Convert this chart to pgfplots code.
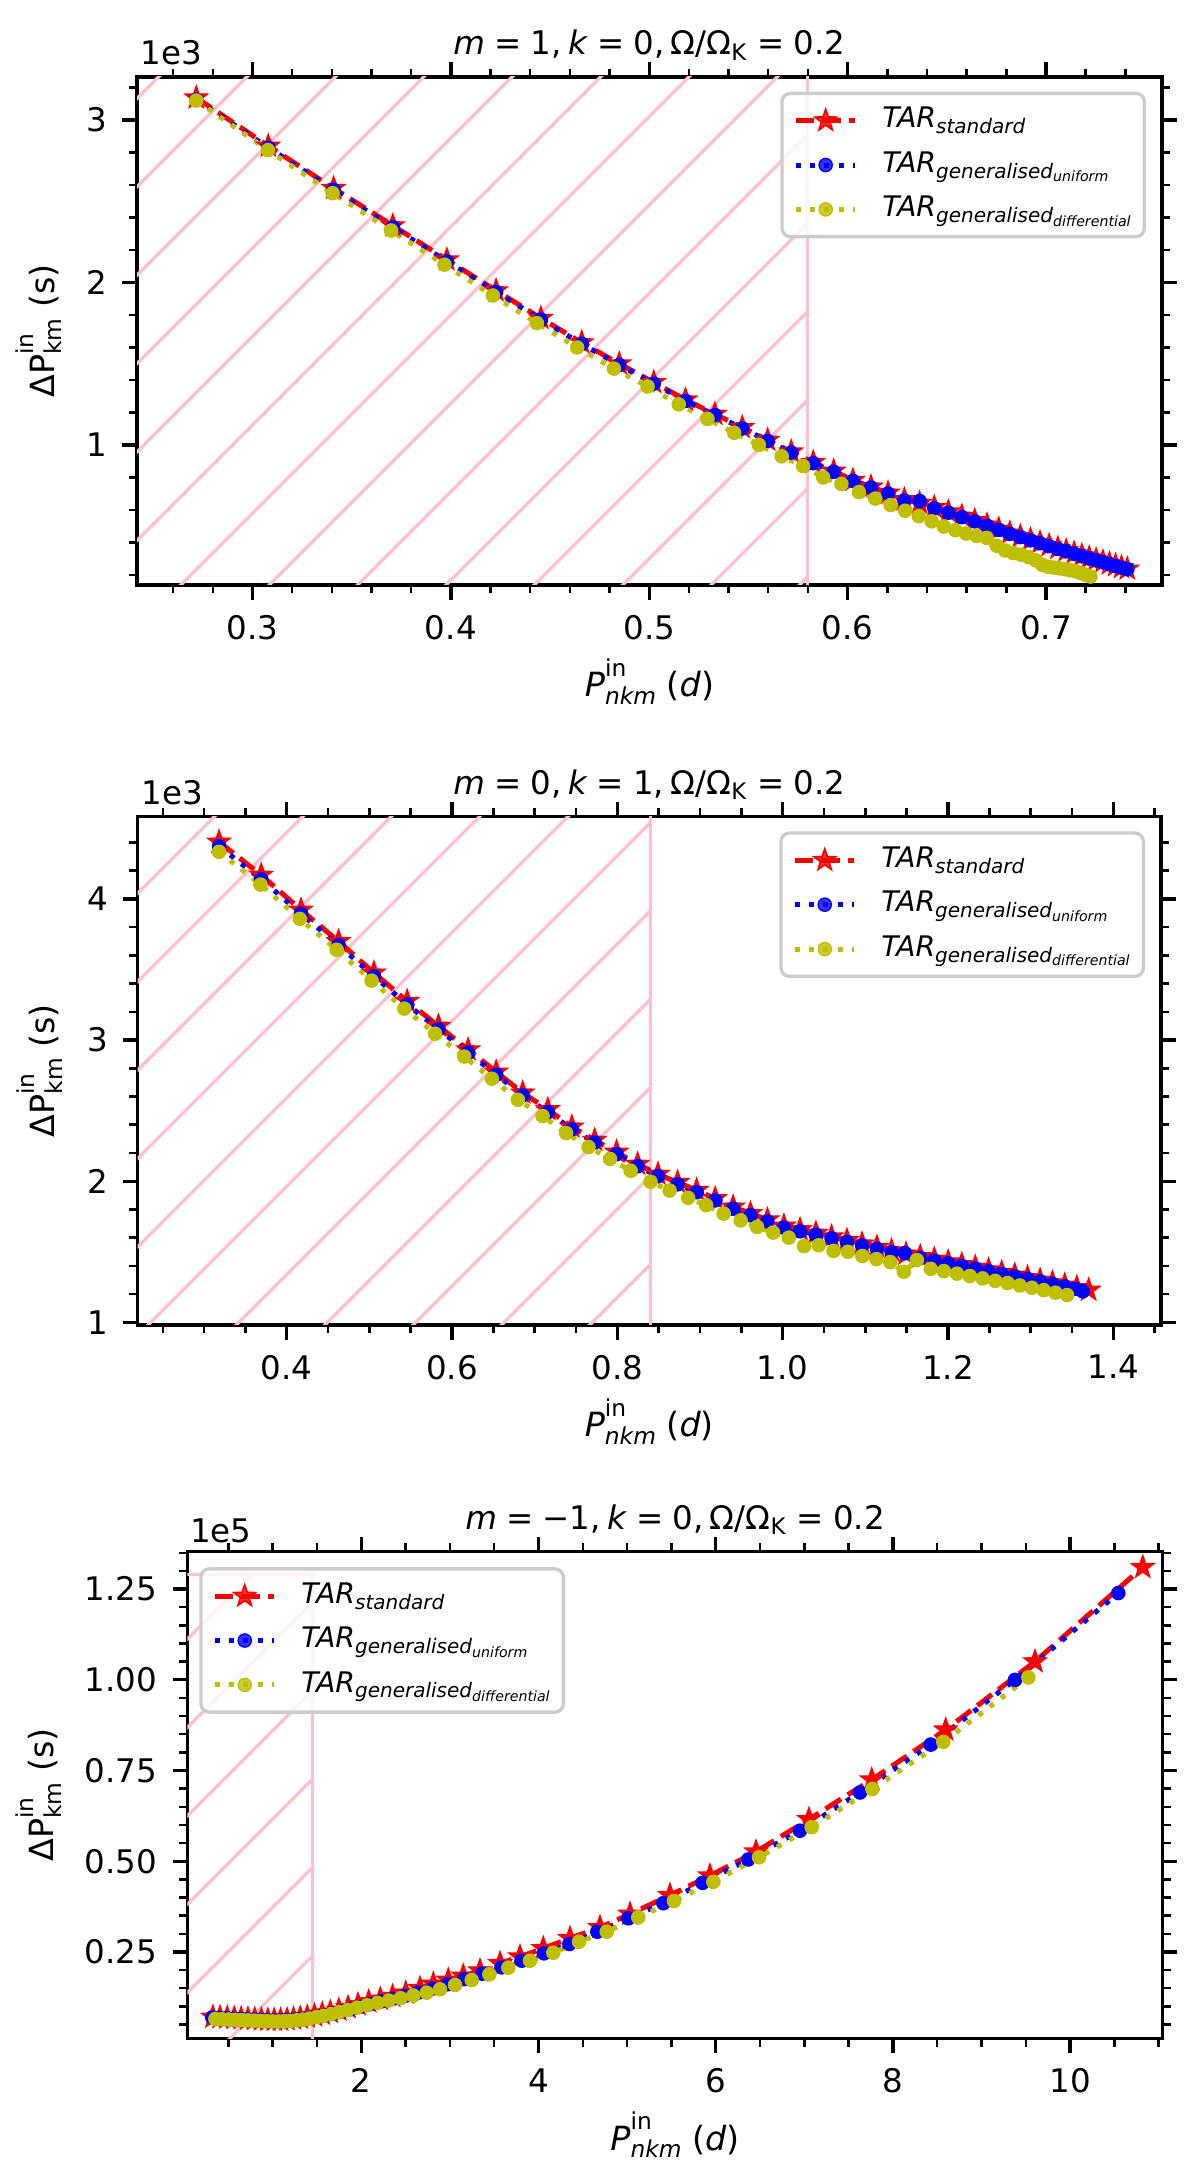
\documentclass[border=0pt]{standalone}
\usepackage{fontspec}
\setmainfont{DejaVu Sans}
\usepackage{pgfplots}
\pgfplotsset{compat=1.18}
\usetikzlibrary{patterns.meta}
\definecolor{mplpink}{HTML}{FFC0CB}
\definecolor{mplred}{rgb}{1,0,0}
\definecolor{mplblue}{rgb}{0,0,1}
\definecolor{mplolive}{rgb}{0.75,0.75,0}
\definecolor{leggray}{gray}{0.8}

\pgfdeclareplotmark{fstar}{%
  \pgfpathmoveto{\pgfpointpolar{90}{\pgfplotmarksize}}%
  \pgfpathlineto{\pgfpointpolar{126}{0.4\pgfplotmarksize}}%
  \pgfpathlineto{\pgfpointpolar{162}{\pgfplotmarksize}}%
  \pgfpathlineto{\pgfpointpolar{198}{0.4\pgfplotmarksize}}%
  \pgfpathlineto{\pgfpointpolar{234}{\pgfplotmarksize}}%
  \pgfpathlineto{\pgfpointpolar{270}{0.4\pgfplotmarksize}}%
  \pgfpathlineto{\pgfpointpolar{306}{\pgfplotmarksize}}%
  \pgfpathlineto{\pgfpointpolar{342}{0.4\pgfplotmarksize}}%
  \pgfpathlineto{\pgfpointpolar{18}{\pgfplotmarksize}}%
  \pgfpathlineto{\pgfpointpolar{54}{0.4\pgfplotmarksize}}%
  \pgfpathclose
  \pgfusepathqfillstroke
}

\newcommand{\supsz}{\fontsize{5.6}{6}\selectfont}
\newcommand{\ylab}{ΔP\makebox[0pt][l]{\raisebox{4.9pt}{\supsz in}}\raisebox{-1.8pt}{\supsz km}\ (s)}
\newcommand{\xlab}{\textit{P}\makebox[0pt][l]{\raisebox{4.9pt}{\supsz in}}\raisebox{-1.8pt}{\supsz\itshape nkm}\ (\textit{d})}
\newcommand{\lsub}[1]{\raisebox{-1.4pt}{\fontsize{4.8}{5}\selectfont\itshape #1}}
\newcommand{\llsub}[1]{\raisebox{-0.9pt}{\fontsize{3.4}{4}\selectfont\itshape #1}}
\newcommand{\lgA}{\textit{TAR}\lsub{standard}}
\newcommand{\lgB}{\textit{TAR}\lsub{generalised\llsub{uniform}}}
\newcommand{\lgC}{\textit{TAR}\lsub{generalised\llsub{differential}}}
\newcommand{\eqs}{\hspace{0.28em}=\hspace{0.28em}}
\newcommand{\ttl}[2]{\textit{m}\eqs #1,\hspace{0.2em}\textit{k}\eqs #2,\hspace{0.2em}Ω/Ω\textsubscript{K}\eqs 0.2}

\pgfplotsset{
  panel/.style={
    scale only axis,
    scaled ticks=false,
    every axis title shift=0pt,
    axis line style={line width=0.8pt},
    tick align=outside,
    major tick length=3.5pt,
    minor tick length=2pt,
    every major tick/.append style={line width=0.8pt, black},
    every minor tick/.append style={line width=0.6pt, black},
    tick label style={font=\fontsize{7.8}{9}\selectfont, inner sep=0pt},
    xticklabel style={yshift=-3.5pt},
    yticklabel style={xshift=-3.5pt},
    title style={font=\fontsize{7.8}{9}\selectfont, at={(rel axis cs:0.5,1)}, anchor=base, yshift=5.3pt, inner sep=0pt},
    label style={font=\fontsize{8}{10}\selectfont},
    xlabel style={at={(rel axis cs:0.5,0)}, anchor=base, yshift=-26.8pt, inner sep=0pt},
    legend cell align=left,
    legend style={
      draw=leggray, line width=0.8pt, rounded corners=2pt,
      fill=white, fill opacity=0.8, draw opacity=1, text opacity=1,
      font=\fontsize{6.8}{8}\selectfont,
      inner xsep=2.8pt, inner ysep=2.8pt,
      row sep=3.2pt, column sep=5.4pt,
      nodes={inner sep=0.5pt},
    },
    legend image code/.code={\draw[mark repeat=2,mark phase=2,#1] plot coordinates {(0pt,0pt) (7.1pt,0pt) (14.2pt,0pt)};},
  },
  sred/.style={mplred, line width=1.2pt, dash pattern=on 4.4pt off 1.9pt, mark=fstar, mark size=2.7pt, mark options={solid, line width=0.4pt}},
  sblue/.style={mplblue, line width=1.2pt, dash pattern=on 1.2pt off 2.2pt, mark=*, mark size=1.6pt, mark options={solid, line width=0.3pt}},
  solive/.style={mplolive, line width=1.2pt, dash pattern=on 1.2pt off 2.2pt, mark=*, mark size=1.6pt, mark options={solid, line width=0.3pt}},
  hatch/.style={draw=none, pattern={Lines[angle=45,distance=15pt,line width=0.8pt]}, pattern color=mplpink, forget plot},
  hedge/.style={mplpink, line width=0.7pt, forget plot},
}

\begin{document}
\begin{tikzpicture}
\useasboundingbox (0,0) rectangle (288pt,523.2pt);

% ---------------- Panel 1 ----------------
\begin{axis}[panel, name=p1,
  at={(32.88pt,382.8pt)}, anchor=south west,
  width=246pt, height=121.92pt,
  xmin=0.2418, xmax=0.7585, ymin=138, ymax=3265,
  xtick={0.3,0.4,0.5,0.6,0.7}, xticklabels={0.3,0.4,0.5,0.6,0.7},
  minor xtick={0.26,0.28,0.32,0.34,0.36,0.38,0.42,0.44,0.46,0.48,0.52,0.54,0.56,0.58,0.62,0.64,0.66,0.68,0.72,0.74},
  ytick={1000,2000,3000}, yticklabels={1,2,3},
  minor ytick={200,400,600,800,1200,1400,1600,1800,2200,2400,2600,2800,3200},
  title={\ttl{1}{0}},
  xlabel={\xlab}, ylabel={\ylab},
  ylabel style={at={([xshift=-17.9pt]rel axis cs:0,0.5)}, anchor=south, inner sep=0pt},
  legend style={at={(rel axis cs:0.9844,0.971)}, anchor=north east},
]
\addplot[hatch] coordinates {(0,-1000) (0.58,-1000) (0.58,5000) (0,5000)} -- cycle;
\addplot[hedge] coordinates {(0.58,-1000) (0.58,5000)};
\addplot[sred] coordinates {
(0.2717,3137) (0.3080,2840) (0.3409,2580) (0.3708,2350) (0.3980,2140) (0.4228,1950)
(0.4454,1780) (0.4660,1630) (0.4849,1500) (0.5023,1385) (0.5183,1278) (0.5331,1190)
(0.5469,1108) (0.5597,1030) (0.5716,958) (0.5827,893) (0.5930,840) (0.6027,783)
(0.6118,742) (0.6204,705) (0.6286,664) (0.6363,642) (0.6437,616) (0.6508,589)
(0.6576,562) (0.6641,535) (0.6703,508) (0.6762,482) (0.6818,458) (0.6871,437)
(0.6922,417) (0.6970,399) (0.7016,381) (0.7060,364) (0.7102,349) (0.7142,334)
(0.7181,319) (0.7218,305) (0.7253,293) (0.7287,281) (0.7320,269) (0.7351,258)
(0.7381,247) (0.7410,237)};
\addlegendentry{\lgA}
\addplot[sblue] coordinates {
(0.2717,3125) (0.3080,2830) (0.3409,2570) (0.3708,2340) (0.3980,2130) (0.4228,1942)
(0.4454,1772) (0.4660,1622) (0.4849,1492) (0.5023,1378) (0.5183,1271) (0.5331,1184)
(0.5469,1102) (0.5597,1025) (0.5716,953) (0.5827,888) (0.5930,835) (0.6027,779)
(0.6118,738) (0.6204,701) (0.6286,659) (0.6363,655) (0.6437,610) (0.6508,583)
(0.6576,556) (0.6641,530) (0.6703,503) (0.6762,477) (0.6818,453) (0.6871,433)
(0.6922,413) (0.6970,395) (0.7016,377) (0.7060,360) (0.7102,346) (0.7142,331)
(0.7181,316) (0.7218,302) (0.7253,290) (0.7287,278) (0.7320,266) (0.7351,255)
(0.7381,245) (0.7410,235)};
\addlegendentry{\lgB}
\addplot[solive] coordinates {
(0.2717,3120) (0.3078,2815) (0.3404,2550) (0.3699,2320) (0.3968,2110) (0.4212,1920)
(0.4434,1750) (0.4637,1600) (0.4822,1470) (0.4992,1360) (0.5149,1250) (0.5294,1160)
(0.5428,1075) (0.5553,1000) (0.5668,930) (0.5776,870) (0.5877,800) (0.5969,760)
(0.6057,710) (0.6139,670) (0.6217,630) (0.6290,595) (0.6359,562) (0.6424,530)
(0.6485,498) (0.6543,475) (0.6598,455) (0.6650,440) (0.6701,428) (0.6751,380)
(0.6795,350) (0.6835,335) (0.6874,325) (0.6912,310) (0.6948,290) (0.6981,262)
(0.7012,250) (0.7041,245) (0.7069,240) (0.7097,235) (0.7124,228) (0.7151,222)
(0.7176,212) (0.7201,200) (0.7224,190)};
\addlegendentry{\lgC}
\end{axis}
\node[anchor=base west, inner sep=0pt, font=\fontsize{7.8}{9}\selectfont] at ([xshift=0.7pt,yshift=2.9pt]p1.north west) {1e3};

% ---------------- Panel 2 ----------------
\begin{axis}[panel, name=p2,
  at={(33.05pt,205.2pt)}, anchor=south west,
  width=245.6pt, height=122pt,
  xmin=0.2197, xmax=1.4577, ymin=981, ymax=4583,
  xtick={0.4,0.6,0.8,1.0,1.2,1.4}, xticklabels={0.4,0.6,0.8,1.0,1.2,1.4},
  minor xtick={0.25,0.3,0.35,0.45,0.5,0.55,0.65,0.7,0.75,0.85,0.9,0.95,1.05,1.1,1.15,1.25,1.3,1.35,1.45},
  ytick={1000,2000,3000,4000}, yticklabels={1,2,3,4},
  minor ytick={1200,1400,1600,1800,2200,2400,2600,2800,3200,3400,3600,3800,4200,4400},
  title={\ttl{0}{1}},
  xlabel={\xlab}, ylabel={\ylab},
  ylabel style={at={([xshift=-17.9pt]rel axis cs:0,0.5)}, anchor=south, inner sep=0pt},
  legend style={at={(rel axis cs:0.9844,0.971)}, anchor=north east},
]
\addplot[hatch] coordinates {(0,0) (0.84,0) (0.84,6000) (0,6000)} -- cycle;
\addplot[hedge] coordinates {(0.84,0) (0.84,6000)};
\addplot[sred] coordinates {
(0.3181,4404) (0.3691,4169) (0.4173,3922) (0.4627,3699) (0.5055,3476) (0.5457,3275)
(0.5836,3099) (0.6195,2932) (0.6534,2774) (0.6855,2626) (0.7159,2508) (0.7449,2385)
(0.7725,2291) (0.7990,2207) (0.8245,2121) (0.8491,2050) (0.8728,1992) (0.8959,1936)
(0.9183,1877) (0.9400,1818) (0.9610,1772) (0.9815,1727) (1.0015,1683) (1.0210,1657)
(1.0402,1632) (1.0591,1606) (1.0777,1581) (1.0960,1556) (1.1140,1532) (1.1317,1508)
(1.1492,1485) (1.1664,1466) (1.1834,1448) (1.2002,1429) (1.2167,1410) (1.2330,1391)
(1.2491,1372) (1.2650,1353) (1.2807,1335) (1.2962,1317) (1.3114,1299) (1.3264,1281)
(1.3412,1264) (1.3558,1247) (1.3702,1229)};
\addlegendentry{\lgA}
\addplot[sblue] coordinates {
(0.3181,4373) (0.3691,4140) (0.4173,3895) (0.4627,3673) (0.5055,3452) (0.5457,3252)
(0.5836,3077) (0.6195,2911) (0.6534,2755) (0.6855,2608) (0.7159,2490) (0.7449,2368)
(0.7725,2275) (0.7990,2192) (0.8245,2106) (0.8491,2036) (0.8728,1978) (0.8959,1922)
(0.9183,1864) (0.9400,1805) (0.9610,1760) (0.9815,1715) (1.0015,1671) (1.0210,1645)
(1.0402,1621) (1.0591,1595) (1.0777,1570) (1.0960,1545) (1.1140,1521) (1.1317,1497)
(1.1480,1490) (1.1664,1456) (1.1834,1438) (1.2002,1419) (1.2167,1400) (1.2330,1381)
(1.2491,1362) (1.2650,1344) (1.2807,1326) (1.2962,1308) (1.3114,1290) (1.3264,1272)
(1.3412,1255) (1.3540,1238) (1.3630,1220)};
\addlegendentry{\lgB}
\addplot[solive] coordinates {
(0.3181,4334) (0.3683,4102) (0.4158,3859) (0.4604,3640) (0.5026,3421) (0.5422,3223)
(0.5795,3045) (0.6147,2883) (0.6481,2726) (0.6797,2577) (0.7095,2462) (0.7380,2341)
(0.7651,2242) (0.7911,2158) (0.8161,2074) (0.8401,1996) (0.8632,1934) (0.8856,1882)
(0.9074,1830) (0.9286,1770) (0.9491,1722) (0.9690,1676) (0.9884,1636) (1.0073,1600)
(1.0258,1540) (1.0436,1546) (1.0615,1506) (1.0789,1500) (1.0963,1470) (1.1133,1448)
(1.1301,1427) (1.1466,1358) (1.1623,1441) (1.1790,1379) (1.1950,1363) (1.2108,1345)
(1.2264,1328) (1.2418,1311) (1.2570,1294) (1.2720,1278) (1.2868,1261) (1.3014,1245)
(1.3158,1228) (1.3300,1210) (1.3440,1193)};
\addlegendentry{\lgC}
\end{axis}
\node[anchor=base west, inner sep=0pt, font=\fontsize{7.8}{9}\selectfont] at ([xshift=0.7pt,yshift=2.9pt]p2.north west) {1e3};

% ---------------- Panel 3 ----------------
\begin{axis}[panel, name=p3,
  at={(44.95pt,34.0pt)}, anchor=south west,
  width=234.1pt, height=116.8pt,
  xmin=0.036, xmax=11.045, ymin=1185, ymax=135310,
  xtick={2,4,6,8,10}, xticklabels={2,4,6,8,10},
  minor xtick={0.5,1,1.5,2.5,3,3.5,4.5,5,5.5,6.5,7,7.5,8.5,9,9.5,10.5,11},
  ytick={25000,50000,75000,100000,125000}, yticklabels={0.25,0.50,0.75,1.00,1.25},
  minor ytick={5000,10000,15000,20000,30000,35000,40000,45000,55000,60000,65000,70000,80000,85000,90000,95000,105000,110000,115000,120000,130000,135000},
  title={\ttl{−1}{0}},
  xlabel={\xlab}, ylabel={\ylab},
  ylabel style={at={([xshift=-30.1pt]rel axis cs:0,0.5)}, anchor=south, inner sep=0pt},
  legend style={at={(rel axis cs:0.0123,0.968)}, anchor=north west},
]
\addplot[hatch] coordinates {(-1,-10000) (1.448,-10000) (1.448,129000) (-1,129000)} -- cycle;
\addplot[hedge] coordinates {(-1,129000) (1.448,129000) (1.448,-10000)};
\addplot[sred] coordinates {
(0.325,7050) (0.406,6950) (0.487,6850) (0.566,6750) (0.644,6650) (0.721,6550)
(0.797,6450) (0.872,6350) (0.945,6250) (1.017,6200) (1.089,6250) (1.162,6350)
(1.235,6550) (1.311,6800) (1.390,7100) (1.472,7450) (1.559,7900) (1.650,8400)
(1.747,9000) (1.851,9700) (1.963,10500) (2.084,11300) (2.215,12000) (2.354,12800)
(2.502,13700) (2.663,14960) (2.813,16150) (2.982,17250) (3.151,18360) (3.340,19820)
(3.566,21850) (3.791,23680) (4.054,25980) (4.356,28740) (4.694,31770) (5.033,35440)
(5.484,40600) (5.935,46000) (6.455,52600) (7.053,61550) (7.761,72460) (8.596,86220)
(9.604,105010) (10.820,131000)};
\addlegendentry{\lgA}
\addplot[sblue] coordinates {
(0.318,6950) (0.399,6850) (0.478,6750) (0.556,6650) (0.633,6550) (0.709,6450)
(0.784,6350) (0.857,6250) (0.930,6150) (1.001,6100) (1.071,6100) (1.142,6150)
(1.213,6250) (1.286,6400) (1.360,6600) (1.436,6900) (1.516,7200) (1.599,7600)
(1.687,8050) (1.780,8600) (1.880,9200) (1.986,9900) (2.101,10600) (2.223,11350)
(2.355,12100) (2.495,12900) (2.644,13800) (2.804,14900) (2.976,16100) (3.162,17500)
(3.365,19000) (3.585,20750) (3.810,22580) (4.062,24610) (4.348,27180) (4.664,30570)
(5.014,34260) (5.409,38430) (5.851,44030) (6.368,50480) (6.951,58410) (7.629,68940)
(8.427,82140) (9.378,99970) (10.544,123900)};
\addlegendentry{\lgB}
\addplot[solive] coordinates {
(0.353,6520) (0.428,6450) (0.503,6380) (0.577,6300) (0.650,6220) (0.722,6140)
(0.793,6060) (0.863,5980) (0.932,5900) (1.000,5850) (1.068,5850) (1.136,5900)
(1.204,6000) (1.273,6150) (1.344,6350) (1.417,6650) (1.494,7000) (1.575,7400)
(1.661,7850) (1.752,8400) (1.849,9000) (1.953,9650) (2.065,10300) (2.184,10950)
(2.311,11600) (2.445,12250) (2.587,12980) (2.738,13760) (2.888,14690) (3.058,15900)
(3.246,17250) (3.445,18820) (3.659,20650) (3.904,22580) (4.167,24780) (4.457,27810)
(4.770,30570) (5.126,34540) (5.529,39030) (5.973,44300) (6.489,51080) (7.083,59370)
(7.768,69900) (8.569,82880) (9.529,100630)};
\addlegendentry{\lgC}
\end{axis}
\node[anchor=base west, inner sep=0pt, font=\fontsize{7.8}{9}\selectfont] at ([xshift=0.5pt,yshift=2.2pt]p3.north west) {1e5};
\end{tikzpicture}
\end{document}
